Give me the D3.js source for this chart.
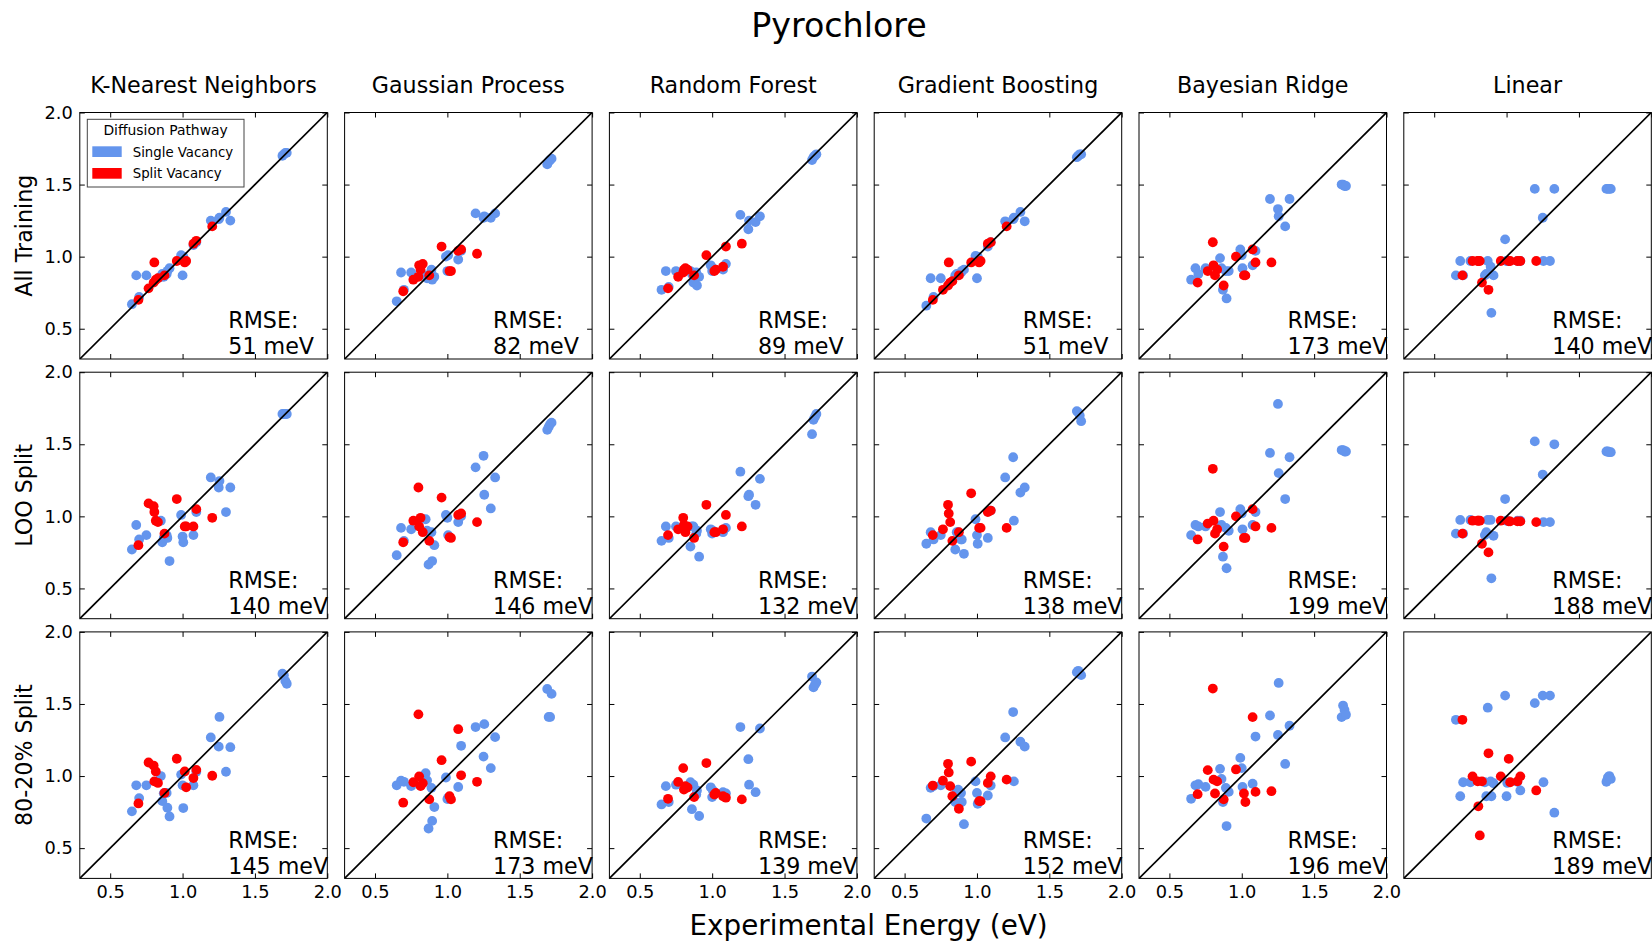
<!DOCTYPE html>
<html><head><meta charset="utf-8">
<script src="https://cdn.jsdelivr.net/npm/d3@7"></script>
<style>
body{margin:0;background:#fff}
svg{display:block}
text{font-family:"DejaVu Sans",sans-serif;fill:#000}
</style>
</head><body>
<svg id="chart" width="1652" height="943"></svg>
<script>
// ---------------- data ----------------
const figureTitle = "Pyrochlore";
const xAxisTitle = "Experimental Energy (eV)";
const models = ["K-Nearest Neighbors", "Gaussian Process", "Random Forest", "Gradient Boosting", "Bayesian Ridge", "Linear"];
const splits = ["All Training", "LOO Split", "80-20% Split"];
const rmse = [
  [51, 82, 89, 51, 173, 140],
  [140, 146, 132, 138, 199, 188],
  [145, 173, 139, 152, 196, 189]
];
const tickValues = [0.5, 1.0, 1.5, 2.0];
const pathwayNames = ["Single Vacancy", "Split Vacancy"];

// experimental barrier of each migration pathway (eV)
const experimental = [
  0.65, 0.68, 0.70, 0.75, 0.85, 0.86, 0.87, 0.89, 0.895, 0.91, 0.99, 1.00, 1.005, 1.075, 1.095, 1.195, 1.25, 1.255, 1.30, 1.33, 1.69, 1.70, 1.71, 1.72,
  0.695, 0.765, 0.80, 0.805, 0.815, 0.83, 0.875, 0.96, 1.015, 1.025, 1.075, 1.095, 1.205
];
const pathway = [
  "Single Vacancy","Single Vacancy","Single Vacancy","Single Vacancy","Single Vacancy","Single Vacancy","Single Vacancy","Single Vacancy",
  "Single Vacancy","Single Vacancy","Single Vacancy","Single Vacancy","Single Vacancy","Single Vacancy","Single Vacancy","Single Vacancy",
  "Single Vacancy","Single Vacancy","Single Vacancy","Single Vacancy","Single Vacancy","Single Vacancy","Single Vacancy","Single Vacancy",
  "Split Vacancy","Split Vacancy","Split Vacancy","Split Vacancy","Split Vacancy","Split Vacancy","Split Vacancy","Split Vacancy",
  "Split Vacancy","Split Vacancy","Split Vacancy","Split Vacancy","Split Vacancy"
];

// predicted energies (eV), same order as `experimental`
const knnAll = [0.67,0.87,0.72,0.87,0.86,0.88,0.86,0.88,0.90,0.92,1.01,0.87,1.00,1.08,1.10,1.25,1.26,1.27,1.31,1.25,1.70,1.71,1.72,1.72,
                0.70,0.78,0.82,0.96,0.84,0.85,0.87,0.97,0.96,0.97,1.09,1.11,1.21];
const gpAll  = [0.69,0.89,0.77,0.89,0.87,0.85,0.86,0.91,0.84,0.86,1.00,0.90,1.01,0.98,1.04,1.30,1.27,1.28,1.27,1.30,1.64,1.66,1.67,1.68,
                0.76,0.84,0.86,0.94,0.91,0.95,0.87,1.07,0.90,0.90,1.04,1.05,1.02];
const rfAll  = [0.77,0.90,0.79,0.90,0.90,0.88,0.82,0.89,0.80,0.86,0.94,0.90,0.92,0.91,0.95,1.29,1.19,1.25,1.24,1.28,1.67,1.69,1.70,1.71,
                0.78,0.86,0.89,0.91,0.92,0.91,0.87,1.01,0.90,0.91,0.93,1.07,1.09];
const gbAll  = [0.66,0.85,0.72,0.85,0.87,0.88,0.87,0.89,0.90,0.91,1.005,0.85,1.00,1.07,1.10,1.245,1.26,1.27,1.31,1.245,1.69,1.70,1.71,1.71,
                0.70,0.77,0.80,0.96,0.82,0.83,0.87,0.96,0.96,0.97,1.09,1.10,1.21];
const brAll  = [0.84,0.92,0.88,0.92,0.99,0.92,0.77,0.90,0.71,0.90,1.05,1.01,0.92,0.94,1.04,1.40,1.33,1.28,1.21,1.40,1.50,1.50,1.49,1.49,
                0.82,0.90,1.10,0.94,0.87,0.91,0.80,1.00,0.87,0.87,1.05,0.96,0.96];
const linAll = [0.87,0.97,0.87,0.97,0.87,0.88,0.97,0.93,0.61,0.87,1.12,0.97,0.97,0.97,0.97,1.47,1.27,0.97,0.97,1.47,1.47,1.47,1.47,1.47,
                0.87,0.97,0.97,0.97,0.97,0.82,0.77,0.97,0.97,0.97,0.97,0.97,0.97];

const knnLoo = [0.77,0.94,0.84,0.87,0.97,0.82,0.85,0.87,0.85,0.69,1.01,0.86,0.82,0.87,1.03,1.27,1.20,1.245,1.03,1.20,1.71,1.71,1.71,1.71,
                0.80,1.09,1.07,1.03,0.97,0.96,0.88,1.12,0.93,0.93,0.93,1.05,0.99];
const gpLoo  = [0.73,0.92,0.83,0.91,0.98,0.90,0.665,0.89,0.69,0.80,1.01,0.99,0.87,0.96,1.00,1.34,1.42,1.15,1.055,1.27,1.60,1.62,1.64,1.65,
                0.82,0.97,1.20,0.93,0.99,0.89,0.83,1.13,0.855,0.85,1.01,1.02,0.96];
const rfLoo  = [0.83,0.93,0.85,0.93,0.79,0.93,0.93,0.88,0.90,0.72,0.91,0.88,0.90,0.89,0.92,1.31,1.14,1.15,1.08,1.26,1.57,1.67,1.69,1.71,
                0.87,0.91,0.99,0.94,0.89,0.93,0.85,1.08,0.89,0.89,0.91,1.01,0.93];
const gbLoo  = [0.81,0.89,0.84,0.87,0.77,0.89,0.89,0.84,0.84,0.74,0.98,0.87,0.81,0.85,1.04,1.27,1.41,0.97,1.165,1.20,1.73,1.72,1.70,1.66,
                0.87,0.91,1.08,1.02,0.96,0.83,0.89,1.16,0.92,0.92,1.03,1.04,0.92];
const brLoo  = [0.87,0.94,0.93,0.93,1.03,0.94,0.72,0.92,0.64,0.90,1.05,1.02,0.91,0.94,1.03,1.44,1.78,1.30,1.12,1.41,1.46,1.46,1.45,1.45,
                0.84,0.95,1.33,0.97,0.88,0.91,0.79,1.00,0.85,0.85,1.05,0.93,0.92];
const linLoo = [0.88,0.975,0.88,0.975,0.87,0.89,0.975,0.975,0.57,0.865,1.12,0.97,0.97,0.97,0.97,1.52,1.29,0.96,0.96,1.50,1.45,1.45,1.445,1.445,
                0.88,0.97,0.97,0.97,0.97,0.81,0.75,0.97,0.965,0.965,0.965,0.965,0.96];

const knn80 = [0.755,0.936,0.847,0.936,1.00,0.826,0.88,0.883,0.78,0.72,1.01,0.936,0.778,0.936,1.03,1.268,1.204,1.41,1.03,1.20,1.71,1.70,1.66,1.64,
               0.81,1.094,1.073,0.963,1.032,0.952,0.883,1.12,1.032,0.922,0.986,1.043,1.002];
const gp80  = [0.936,0.968,0.96,0.93,1.02,0.97,0.636,0.918,0.689,0.785,0.99,0.84,0.85,0.924,1.21,1.34,1.135,1.36,1.055,1.27,1.604,1.41,1.41,1.57,
               0.815,0.957,1.428,0.998,0.93,0.95,0.838,1.11,0.86,0.838,1.325,1.005,0.96];
const rf80  = [0.803,0.93,0.82,0.94,0.957,0.77,0.94,0.872,0.90,0.723,0.922,0.854,0.90,0.888,0.88,1.34,1.117,0.94,0.888,1.33,1.69,1.615,1.634,1.65,
               0.842,0.959,1.055,0.906,0.93,0.92,0.854,1.09,0.872,0.883,0.86,0.85,0.838];
const gb80  = [0.705,0.918,0.93,0.936,0.82,0.895,0.906,0.883,0.82,0.666,0.963,0.883,0.808,0.865,0.934,1.268,1.444,0.963,1.238,1.204,1.72,1.73,1.71,1.70,
               0.934,0.968,1.085,1.025,0.93,0.86,0.773,1.10,0.826,0.826,0.952,0.998,0.975];
const br80  = [0.842,0.936,0.943,0.925,1.05,0.98,0.82,0.918,0.653,0.89,1.126,1.055,0.925,0.947,1.274,1.42,1.285,1.646,1.084,1.349,1.409,1.489,1.459,1.425,
               0.874,1.041,1.607,0.975,0.879,0.963,0.838,1.046,0.879,0.82,1.409,0.89,0.895];
const lin80 = [1.39,0.86,0.957,0.957,0.957,0.86,1.474,0.963,0.86,0.95,1.558,0.86,0.952,0.96,0.90,1.506,1.558,0.957,1.558,0.746,0.96,0.99,1.0,0.98,
               1.39,0.998,0.963,0.79,0.588,0.963,1.158,0.998,1.119,0.957,0.963,0.998,0.90];

const predicted = [
  [knnAll, gpAll, rfAll, gbAll, brAll, linAll],
  [knnLoo, gpLoo, rfLoo, gbLoo, brLoo, linLoo],
  [knn80, gp80, rf80, gb80, br80, lin80]
];

// ---------------- layout / style ----------------
const colors = {"Single Vacancy": "#6495ED", "Split Vacancy": "#FF0000"};
const domain = [0.29, 2.0];
const colLeft0 = 79.8, colStep = 264.8, W = 247.5;
const rowTop0 = 112.5, rowStep = 259.7, H = 246.5;
const tickFont = 17.8, labelFont = 22.2;

const svg = d3.select("#chart");
const fmt = d3.format(".1f");

splits.forEach((split, r) => {
  models.forEach((model, c) => {
    const left = colLeft0 + c * colStep, top = rowTop0 + r * rowStep;
    const g = svg.append("g").attr("transform", `translate(${left},${top})`);
    const x = d3.scaleLinear().domain(domain).range([0, W]);
    const y = d3.scaleLinear().domain(domain).range([H, 0]);
    const noTicks = (r === 2 && c === 5);

    const clipId = `clip-${r}-${c}`;
    g.append("clipPath").attr("id", clipId).append("rect").attr("width", W).attr("height", H);

    const pts = experimental.map((e, i) => ({e, p: predicted[r][c][i], k: pathway[i]}));
    const pg = g.append("g").attr("clip-path", `url(#${clipId})`);
    pathwayNames.forEach(name => {
      pg.selectAll(null).data(pts.filter(d => d.k === name)).enter().append("circle")
        .attr("cx", d => x(d.e)).attr("cy", d => y(d.p)).attr("r", 4.9)
        .attr("fill", colors[name]);
    });
    pg.append("line")
      .attr("x1", x(domain[0])).attr("y1", y(domain[0]))
      .attr("x2", x(domain[1])).attr("y2", y(domain[1]))
      .attr("stroke", "#000").attr("stroke-width", 1.7);

    if (!noTicks) {
      const axes = [
        [d3.axisBottom(x), `translate(0,${H})`, r === 2 ? fmt : () => ""],
        [d3.axisTop(x), `translate(0,0)`, () => ""],
        [d3.axisLeft(y), `translate(0,0)`, c === 0 ? fmt : () => ""],
        [d3.axisRight(y), `translate(${W},0)`, () => ""]
      ];
      axes.forEach(([ax, tr, f]) => {
        const a = g.append("g").attr("transform", tr)
          .call(ax.tickValues(tickValues).tickSize(-5).tickSizeOuter(0).tickPadding(7).tickFormat(f));
        a.select(".domain").remove();
        a.selectAll(".tick line").attr("stroke", "#000").attr("stroke-width", 1);
        a.selectAll(".tick text").attr("font-size", tickFont).attr("font-family", '"DejaVu Sans",sans-serif').attr("fill", "#000");
      });
    }

    g.append("rect").attr("width", W).attr("height", H)
      .attr("fill", "none").attr("stroke", "#000").attr("stroke-width", 1);

    const t = g.append("text").attr("x", 0.6 * W).attr("font-size", labelFont);
    t.append("tspan").attr("x", 0.6 * W).attr("y", H - 30.8).text("RMSE:");
    t.append("tspan").attr("x", 0.6 * W).attr("y", H - 4.8).text(`${rmse[r][c]} meV`);

    if (r === 0) {
      svg.append("text").attr("x", left + W / 2).attr("y", 93.3)
        .attr("text-anchor", "middle").attr("font-size", labelFont).text(model);
    }
    if (c === 0) {
      svg.append("text").attr("transform", `translate(31.5,${top + H / 2}) rotate(-90)`)
        .attr("text-anchor", "middle").attr("font-size", labelFont).text(split);
    }
  });
});

// figure title and shared x label
svg.append("text").attr("x", 839).attr("y", 37.3).attr("text-anchor", "middle")
  .attr("font-size", 33.3).text(figureTitle);
svg.append("text").attr("x", 868.6).attr("y", 935).attr("text-anchor", "middle")
  .attr("font-size", 27.8).text(xAxisTitle);

// legend (first panel)
const lg = svg.append("g").attr("transform", "translate(87.3,119.3)");
lg.append("rect").attr("width", 156.7).attr("height", 67.7)
  .attr("fill", "#fff").attr("fill-opacity", 0.85).attr("stroke", "#444").attr("stroke-width", 1);
lg.append("text").attr("x", 78.3).attr("y", 16).attr("text-anchor", "middle")
  .attr("font-size", 13.9).text("Diffusion Pathway");
pathwayNames.forEach((name, i) => {
  lg.append("rect").attr("x", 5).attr("y", 27 + i * 21.7).attr("width", 29.4).attr("height", 10.7)
    .attr("fill", colors[name]);
  lg.append("text").attr("x", 45.4).attr("y", 37.7 + i * 21.2)
    .attr("font-size", 13.3).text(name);
});
</script>
</body></html>
